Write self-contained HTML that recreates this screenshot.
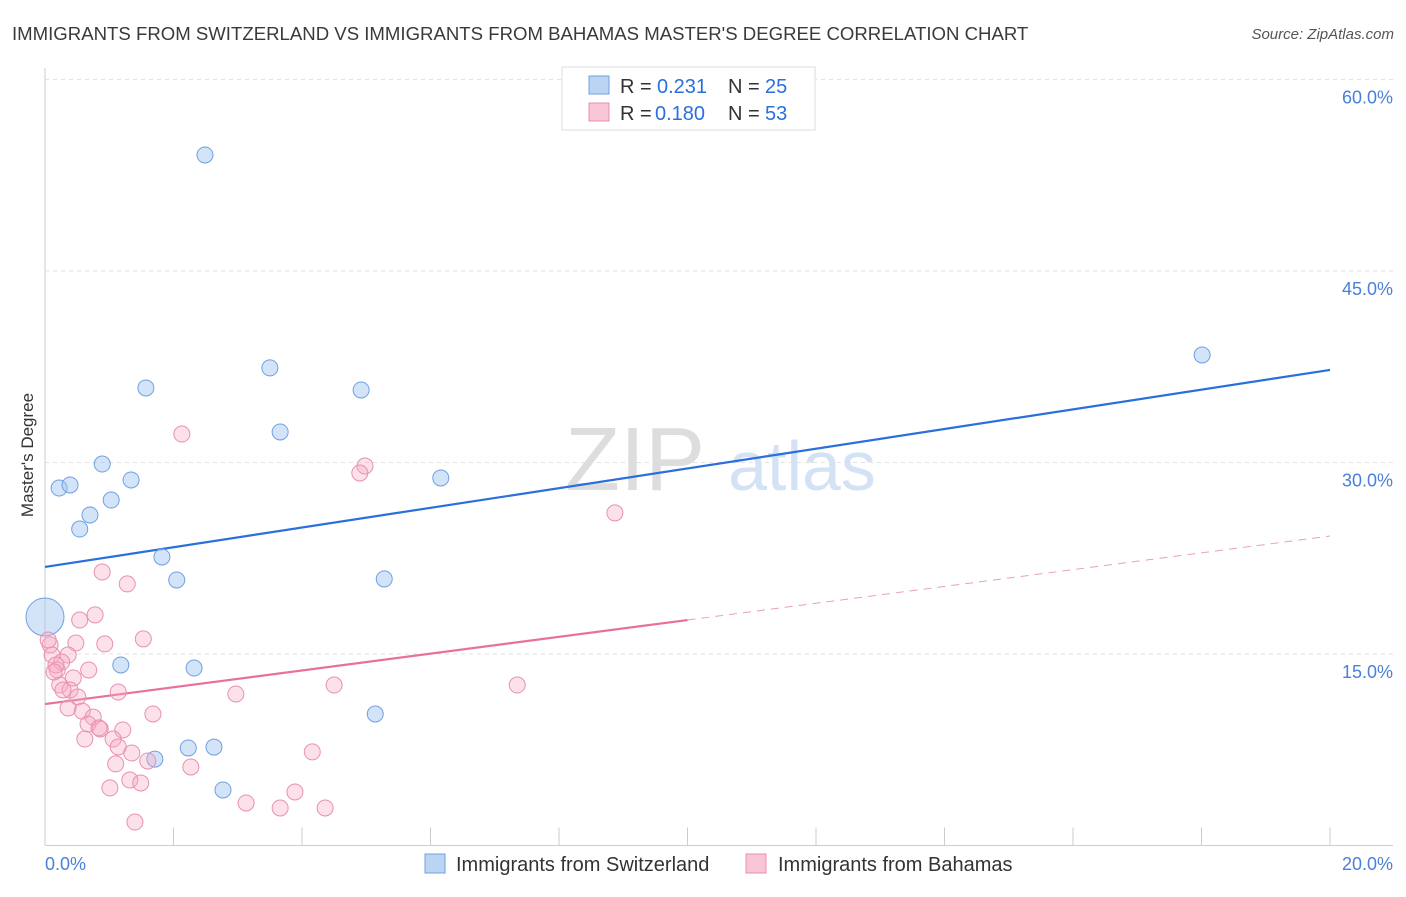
<!DOCTYPE html>
<html><head><meta charset="utf-8">
<style>
body{margin:0;background:#fff;font-family:"Liberation Sans",sans-serif;}
svg text{font-family:"Liberation Sans",sans-serif;}
</style></head>
<body>
<svg id="chart" width="1406" height="892" viewBox="0 0 1406 892" xmlns="http://www.w3.org/2000/svg">
<text x="12" y="40" font-size="18.6" fill="#3a3a3a">IMMIGRANTS FROM SWITZERLAND VS IMMIGRANTS FROM BAHAMAS MASTER'S DEGREE CORRELATION CHART</text>
<text x="1394" y="39" font-size="15" fill="#555" font-style="italic" text-anchor="end">Source: ZipAtlas.com</text>
<g id="grid"></g>
<g>
<text x="635" y="490" font-size="90" fill="#ddd" font-family="Liberation Serif" text-anchor="middle">ZIP</text>
<text x="802" y="490" font-size="70" fill="#d4e2f5" text-anchor="middle">atlas</text>
</g>
<text transform="translate(33,455) rotate(-90)" font-size="17" fill="#333" text-anchor="middle">Master's Degree</text>
<g id="lines"></g>
<g id="points"></g>
<g>
<rect x="562" y="67" width="253" height="63" fill="#fff" stroke="#ddd"/>
<rect x="589" y="76" width="20" height="18" fill="#bcd4f4" stroke="#6fa0e0"/>
<rect x="589" y="103" width="20" height="18" fill="#f9c6d6" stroke="#e890b0"/>
<text x="620" y="93" font-size="20" fill="#333">R =</text>
<text x="657" y="93" font-size="20" fill="#2a6fdb">0.231</text>
<text x="728" y="93" font-size="20" fill="#333">N =</text>
<text x="765" y="93" font-size="20" fill="#2a6fdb">25</text>
<text x="620" y="120" font-size="20" fill="#333">R =</text>
<text x="655" y="120" font-size="20" fill="#2a6fdb">0.180</text>
<text x="728" y="120" font-size="20" fill="#333">N =</text>
<text x="765" y="120" font-size="20" fill="#2a6fdb">53</text>
</g>
<g>
<rect x="425" y="854" width="20" height="19" fill="#bcd4f4" stroke="#6fa0e0"/>
<text x="456" y="871" font-size="20" fill="#333">Immigrants from Switzerland</text>
<rect x="746" y="854" width="20" height="19" fill="#f9c6d6" stroke="#e890b0"/>
<text x="778" y="871" font-size="20" fill="#333">Immigrants from Bahamas</text>
</g>
</svg>
<script>
const yTicks=[15,30,45,60];
const yTickLabels=["15.0%","30.0%","45.0%","60.0%"];
const xTicks=[0,2,4,6,8,10,12,14,16,18,20];
const swissX=[2.49,3.50,1.57,4.92,3.66,0.89,6.16,0.22,0.39,1.34,1.03,0.70,0.54,1.82,2.05,5.28,0,1.18,2.32,5.14,1.71,2.23,2.63,2.77,18.01];
const swissY=[54.09,37.41,35.84,35.68,32.39,29.88,28.79,28.0,28.24,28.63,27.06,25.89,24.79,22.6,20.8,20.88,17.9,14.14,13.9,10.3,6.77,7.64,7.71,4.35,38.42];
const bahX=[2.13,4.98,4.90,8.87,0.89,1.28,0.78,0.54,1.53,0.93,0.48,0.08,0.11,0.36,0.26,0.19,0.68,0.44,0.23,0.39,0.51,1.14,2.97,4.50,7.35,0.36,0.58,0.75,1.68,0.67,0.86,1.21,1.06,0.62,1.14,1.35,4.16,1.60,1.10,2.27,1.01,1.32,1.49,3.13,3.89,3.66,4.36,1.40,0.17,0.05,0.28,0.84,0.14];
const bahY=[32.23,29.73,29.18,26.05,21.42,20.49,18.06,17.66,16.18,15.79,15.86,15.71,14.92,14.92,14.37,13.75,13.75,13.12,12.57,12.18,11.63,12.02,11.87,12.57,12.57,10.77,10.53,10.06,10.30,9.52,9.13,9.05,8.34,8.34,7.72,7.25,7.33,6.62,6.39,6.15,4.51,5.13,4.90,3.33,4.19,2.94,2.94,1.84,14.14,16.1,12.18,9.21,13.59];
const swissLine=[21.82,37.25];
const bahLine=[11.08,24.24];
const bahSolidEnd=10;

const NS="http://www.w3.org/2000/svg";
const X0=45,X1=1330,Y0=845.5,Y60=79.5;
const sx=v=>X0+(v/20)*(X1-X0);
const sy=v=>Y0-(v/60)*(Y0-Y60);
function mk(t,a,p){const e=document.createElementNS(NS,t);for(const k in a)e.setAttribute(k,a[k]);p.appendChild(e);return e;}
const grid=document.getElementById('grid');
const ax=mk('line',{x1:X0,y1:68,x2:X0,y2:Y0,stroke:'#ccc'},grid);


const bx=mk('line',{x1:X0,y1:Y0,x2:1393,y2:Y0,stroke:'#ccc'},grid);


yTicks.forEach((t,i)=>{
 const g=mk('line',{x1:X0,y1:sy(t),x2:1393,y2:sy(t),stroke:'#e2e2e2','stroke-dasharray':'4,4'},grid);
 
 
 const l=mk('text',{x:1393,y:sy(t)+24,'font-size':18,fill:'#4a80d8','text-anchor':'end'},grid);
 l.textContent=yTickLabels[i];
 
 
});
xTicks.forEach(t=>{
 const k=mk('line',{x1:sx(t),y1:Y0-18,x2:sx(t),y2:Y0,stroke:'#ccc'},grid);
 
 
});
const xl0=mk('text',{x:45,y:870,'font-size':18,fill:'#4a80d8'},grid);xl0.textContent='0.0%';


const xl1=mk('text',{x:1393,y:870,'font-size':18,fill:'#4a80d8','text-anchor':'end'},grid);xl1.textContent='20.0%';



const pts=document.getElementById('points');
swissX.forEach((x,i)=>{
 const r=(x===0&&i===16)?19:8;
 const c=mk('circle',{cx:sx(x),cy:sy(swissY[i]),r:r,fill:'rgba(160,195,240,0.45)',stroke:'#6fa0e0','stroke-width':1},pts);
 
 
});
bahX.forEach((x,i)=>{
 const c=mk('circle',{cx:sx(x),cy:sy(bahY[i]),r:8,fill:'rgba(245,170,195,0.35)',stroke:'#e890b0','stroke-width':1},pts);
 
 
});
const ln=document.getElementById('lines');
const at=(a,x)=>a[0]+(a[1]-a[0])*x/20;
const l1=mk('line',{x1:sx(0),y1:sy(swissLine[0]),x2:sx(20),y2:sy(swissLine[1]),stroke:'#2a6fdb','stroke-width':2.2},ln);


const l2=mk('line',{x1:sx(0),y1:sy(bahLine[0]),x2:sx(bahSolidEnd),y2:sy(at(bahLine,bahSolidEnd)),stroke:'#e8709a','stroke-width':2.2},ln);


const l3=mk('line',{x1:sx(bahSolidEnd),y1:sy(at(bahLine,bahSolidEnd)),x2:sx(20),y2:sy(bahLine[1]),stroke:'#e8a0b8','stroke-width':1,'stroke-dasharray':'8,6'},ln);


</script>
</body></html>
